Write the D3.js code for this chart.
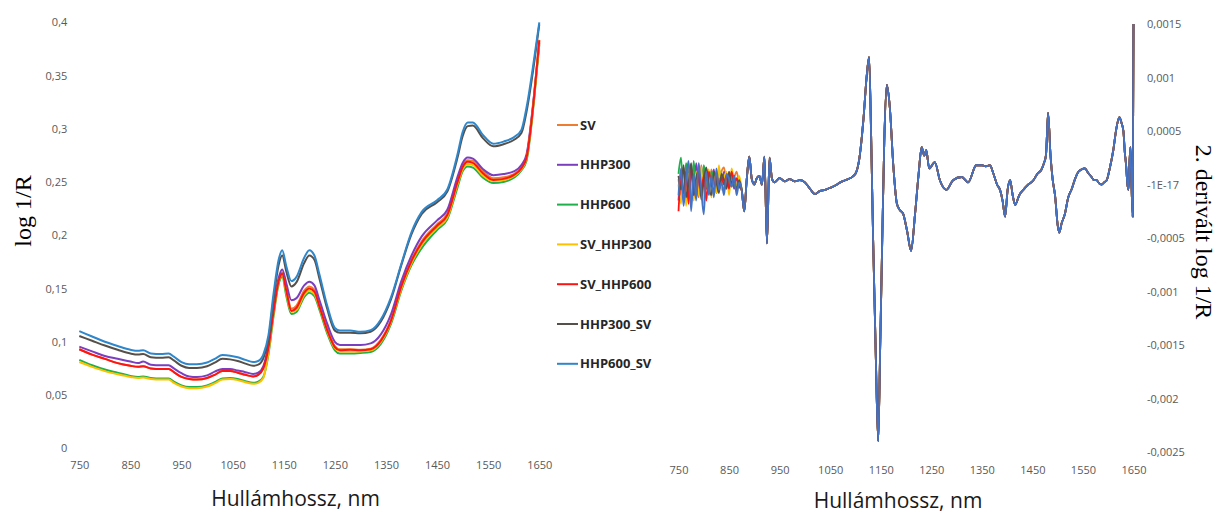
<!DOCTYPE html>
<html><head><meta charset="utf-8">
<script src="https://cdn.jsdelivr.net/npm/d3@7"></script>
<style>
body{margin:0;background:#fff;}
svg{display:block;}
</style></head><body>
<svg id="c" width="1220" height="513"></svg>
<script>
// ---------- legend / series ----------
const seriesNames = ["SV","HHP300","HHP600","SV_HHP300","SV_HHP600","HHP300_SV","HHP600_SV"];
const seriesColors = ["#ED7D31","#7B3FBE","#1FAF4B","#FFC000","#FF1414","#57504A","#2E86CB"];
const rightColors  = ["#ED7D31","#7B3FBE","#1FAF4B","#FFC000","#FF1414","#57504A","#4472C4"];

// ---------- left chart: log 1/R ----------
const leftXTicks = [750,850,950,1050,1150,1250,1350,1450,1550,1650];
const leftXLabels = ["750","850","950","1050","1150","1250","1350","1450","1550","1650"];
const leftYTicks = [0,0.05,0.1,0.15,0.2,0.25,0.3,0.35,0.4];
const leftYLabels = ["0","0,05","0,1","0,15","0,2","0,25","0,3","0,35","0,4"];

const wlLeft = [750,775,800,825,850,865,875,890,910,925,935,950,965,980,1000,1015,1030,1045,1060,1075,1090,1100,1110,1120,1130,1140,1147,1155,1165,1175,1190,1200,1210,1220,1235,1250,1260,1280,1300,1320,1340,1360,1380,1400,1420,1450,1470,1490,1500,1510,1520,1540,1560,1580,1600,1615,1625,1640,1650];

const leftSV = [.093,.088,.084,.080,.0775,.0765,.077,.075,.0745,.0745,.0715,.067,.065,.0645,.066,.069,.0725,.0725,.071,.069,.0675,.069,.075,.095,.129,.158,.165,.150,.131,.134,.148,.152,.149,.135,.113,.096,.093,.093,.0925,.0935,.102,.121,.153,.177,.1945,.2105,.2205,.252,.266,.2705,.270,.260,.2535,.2545,.2575,.264,.274,.332,.3835];
const leftHHP300 = [.0955,.091,.0867,.084,.0815,.080,.0815,.0785,.078,.078,.075,.0705,.0675,.067,.0685,.072,.0745,.0745,.073,.0715,.0698,.071,.077,.097,.132,.160,.168,.155,.139,.141,.153,.1565,.153,.139,.117,.100,.097,.097,.097,.0985,.107,.126,.157,.181,.199,.214,.224,.255,.268,.273,.272,.262,.2565,.2575,.260,.266,.276,.333,.381];
const leftHHP600 = [.083,.078,.074,.071,.068,.067,.0675,.066,.0655,.0655,.0625,.059,.0575,.0575,.059,.062,.0655,.066,.065,.063,.0615,.0625,.067,.088,.124,.154,.161,.143,.126,.128,.142,.146,.143,.130,.108,.092,.089,.089,.0895,.0905,.098,.117,.148,.172,.188,.205,.215,.245,.260,.2645,.2635,.254,.249,.250,.254,.261,.270,.328,.379];
const leftSV_HHP300 = [.081,.0765,.0725,.0695,.067,.066,.0665,.065,.0645,.0645,.0615,.058,.0565,.0565,.058,.061,.0645,.065,.064,.062,.0605,.0615,.066,.090,.126,.156,.163,.146,.128,.130,.144,.148,.145,.132,.110,.094,.091,.091,.091,.092,.100,.119,.150,.174,.191,.207,.217,.248,.262,.267,.266,.256,.251,.252,.2555,.262,.272,.330,.381];
const leftSV_HHP600 = [.093,.088,.084,.080,.0775,.0765,.077,.075,.0745,.0745,.0715,.067,.065,.0645,.066,.069,.0725,.0725,.071,.069,.0675,.069,.075,.094,.128,.157,.164,.148,.129,.132,.146,.150,.147,.133,.111,.095,.092,.0925,.092,.093,.101,.120,.152,.176,.193,.209,.219,.250,.264,.269,.268,.258,.252,.253,.2565,.263,.273,.331,.383];
const leftHHP300_SV = [.1055,.101,.0965,.0925,.089,.088,.0885,.0855,.085,.0855,.0825,.0775,.0755,.0755,.077,.0805,.084,.0835,.082,.0795,.0775,.0785,.0845,.102,.140,.172,.181,.166,.152,.156,.174,.181,.177,.159,.131,.1105,.1085,.1085,.108,.1095,.119,.140,.172,.201,.220,.231,.241,.273,.293,.3025,.303,.291,.2835,.2855,.2895,.296,.316,.362,.398];
const leftHHP600_SV = [.110,.105,.100,.096,.0925,.0915,.092,.089,.0885,.089,.086,.081,.079,.079,.0805,.084,.0875,.087,.0855,.083,.081,.082,.088,.106,.145,.177,.186,.171,.157,.161,.179,.186,.181,.163,.134,.113,.1105,.1105,.1095,.111,.121,.142,.173,.203,.222,.233,.243,.276,.297,.306,.306,.294,.286,.288,.292,.299,.320,.366,.400];

// ---------- right chart: 2nd derivative (values in units of 0.001) ----------
const rightXTicks = [750,850,950,1050,1150,1250,1350,1450,1550,1650];
const rightXLabels = ["750","850","950","1050","1150","1250","1350","1450","1550","1650"];
const rightYTicks = [1.5,1,0.5,0,-0.5,-1,-1.5,-2,-2.5];
const rightYLabels = ["0,0015","0,001","0,0005","-1E-17","-0,0005","-0,001","-0,0015","-0,002","-0,0025"];

const wlRightNoise = [750,755,760,765,770,775,780,785,790,795,800,805,810,815,820,825,830,835,840,845,850,855,860,865,870];
const wlRightTail = [875,880,885,890,895,900,905,910,915,920,925,930,935,940,950,960,970,980,990,1000,1010,1020,1030,1040,1050,1060,1070,1080,1090,1100,1107,1116,1122,1127,1131,1135,1140,1145,1149,1153,1157,1162,1168,1175,1182,1188,1194,1202,1210,1218,1225,1231,1236,1240,1246,1257,1267,1280,1293,1310,1323,1339,1350,1358,1366,1373,1380,1386,1391,1396,1401,1406,1411,1416,1424,1432,1442,1452,1460,1468,1473,1477,1481,1486,1490,1495,1500,1503,1508,1514,1521,1528,1535,1541,1547,1554,1560,1567,1572,1577,1582,1587,1592,1597,1603,1610,1616,1622,1626,1630,1633,1635,1638,1640,1642,1644,1646,1648.5,1650];
const rightTailShared = [-0.05,-0.25,0.05,0.26,0.05,0.00,0.06,0.08,0.00,0.26,-0.55,0.25,0.05,0.02,0.06,0.03,0.05,0.03,0.04,0.02,-0.04,-0.09,-0.06,-0.05,-0.03,-0.01,0.02,0.04,0.06,0.10,0.22,0.62,1.00,1.19,0.46,-0.52,-1.55,-2.40,-1.50,-0.52,0.40,0.93,0.72,0.17,-0.18,-0.24,-0.27,-0.43,-0.62,-0.27,0.10,0.35,0.27,0.32,0.15,0.21,0.04,-0.05,0.04,0.07,0.02,0.18,0.18,0.17,0.18,0.10,0.00,-0.05,-0.15,-0.30,-0.05,0.04,-0.10,-0.19,-0.10,-0.05,0.00,0.04,0.10,0.14,0.20,0.28,0.67,0.26,0.05,-0.11,-0.38,-0.45,-0.36,-0.28,-0.12,-0.04,0.06,0.12,0.14,0.15,0.11,0.07,0.04,0.04,0.01,0.00,0.02,0.04,0.15,0.32,0.52,0.63,0.58,0.50,0.29,0.20,0.00,-0.05,0.20,0.35,0.00,-0.30,1.50];

const rightNoiseSV = [0.05,-0.10,0.12,-0.05,0.20,-0.08,0.15,0.02,-0.12,0.18,-0.02,0.10,-0.06,0.14,0.00,0.08,-0.04,0.12,0.16,0.02,0.10,-0.02,0.06,0.12,0.00];
const rightNoiseHHP300 = [-0.15,0.10,-0.05,0.18,-0.10,0.12,-0.08,0.20,0.00,-0.06,0.15,-0.04,0.10,0.02,0.14,-0.08,0.06,0.00,0.12,-0.02,0.08,0.10,-0.04,0.05,0.02];
const rightNoiseHHP600 = [0.10,0.25,-0.12,0.20,0.05,-0.15,0.22,-0.05,0.15,-0.10,0.18,0.02,-0.08,0.12,0.06,-0.02,0.14,0.04,-0.06,0.10,0.00,0.08,0.02,-0.04,0.06];
const rightNoiseSV_HHP300 = [0.00,-0.18,0.15,-0.20,0.10,0.02,-0.15,0.12,-0.10,0.16,-0.18,0.08,0.14,-0.12,0.10,-0.08,0.18,-0.05,0.06,0.12,-0.10,0.15,0.04,0.00,0.08];
const rightNoiseSV_HHP600 = [-0.25,0.05,-0.08,0.12,-0.18,0.15,-0.02,-0.12,0.10,-0.06,0.08,-0.15,0.12,0.00,-0.05,0.10,-0.02,0.06,0.00,0.08,-0.04,0.12,0.02,0.06,-0.02];
const rightNoiseHHP300_SV = [0.08,-0.05,0.18,-0.12,0.02,0.20,-0.10,0.06,0.14,-0.14,0.04,0.16,-0.02,-0.10,0.12,0.02,-0.08,0.10,0.04,-0.04,0.12,0.00,0.08,-0.06,0.04];
const rightNoiseHHP600_SV = [-0.10,0.15,-0.20,0.05,0.22,-0.25,0.10,-0.15,0.20,-0.05,-0.28,0.12,-0.10,0.08,-0.12,0.15,-0.05,0.02,-0.10,0.10,0.05,-0.02,0.08,-0.10,0.02];

// ---------- build ----------
const leftSeries = [leftSV,leftHHP300,leftHHP600,leftSV_HHP300,leftSV_HHP600,leftHHP300_SV,leftHHP600_SV];
const rightNoise = [rightNoiseSV,rightNoiseHHP300,rightNoiseHHP600,rightNoiseSV_HHP300,rightNoiseSV_HHP600,rightNoiseHHP300_SV,rightNoiseHHP600_SV];
const wlRight = wlRightNoise.concat(wlRightTail);

const svg = d3.select("#c");
const tickFont = "'Open Sans', sans-serif";

// Left scales
const xL = d3.scaleLinear().domain([750,1650]).range([79.3,539.3]);
const yL = d3.scaleLinear().domain([0,0.4]).range([448.3,22.3]);
// Right scales
const xR = d3.scaleLinear().domain([750,1650]).range([678.5,1133.5]);
const yR = d3.scaleLinear().domain([-2.5,1.5]).range([452,24]);

function styleAxis(g){
  g.select(".domain").remove();
  g.selectAll(".tick line").remove();
  g.selectAll("text").attr("fill","#595959").style("font-family",tickFont).style("font-size","11px");
}

// left axes
svg.append("g").attr("transform","translate(79.3,0)")
  .call(d3.axisLeft(yL).tickValues(leftYTicks).tickFormat((d,i)=>leftYLabels[i]).tickSize(0).tickPadding(12))
  .call(styleAxis);
svg.append("g").attr("transform","translate(0,448.3)")
  .call(d3.axisBottom(xL).tickValues(leftXTicks).tickFormat((d,i)=>leftXLabels[i]).tickSize(0).tickPadding(13))
  .call(styleAxis);

// right axes
svg.append("g").attr("transform","translate(1133.5,0)")
  .call(d3.axisRight(yR).tickValues(rightYTicks).tickFormat((d,i)=>rightYLabels[i]).tickSize(0).tickPadding(13.5))
  .call(styleAxis);
svg.append("g").attr("transform","translate(0,452)")
  .call(d3.axisBottom(xR).tickValues(rightXTicks).tickFormat((d,i)=>rightXLabels[i]).tickSize(0).tickPadding(14))
  .call(styleAxis);

// left lines
const lineL = d3.line().x((d,i)=>xL(wlLeft[i])).y(d=>yL(d)).curve(d3.curveMonotoneX);
leftSeries.forEach((s,k)=>{
  svg.append("path").attr("d",lineL(s)).attr("fill","none")
    .attr("stroke",seriesColors[k]).attr("stroke-width",2).attr("stroke-linejoin","round");
});

// right lines
const lineR = d3.line().x((d,i)=>xR(wlRight[i])).y(d=>yR(d)).curve(d3.curveMonotoneX);
rightNoise.forEach((n,k)=>{
  const vals = n.concat(rightTailShared);
  svg.append("path").attr("d",lineR(vals)).attr("fill","none")
    .attr("stroke",rightColors[k]).attr("stroke-width",1.8).attr("stroke-linejoin","round");
});

// legend
const lg = svg.append("g");
seriesNames.forEach((name,k)=>{
  const y = 125 + k*39.8;
  lg.append("line").attr("x1",557).attr("x2",578).attr("y1",y).attr("y2",y)
    .attr("stroke",seriesColors[k]).attr("stroke-width",2);
  lg.append("text").attr("x",580).attr("y",y).attr("dy","0.35em")
    .style("font-family",tickFont).style("font-weight","bold").style("font-size","13px")
    .attr("fill","#262626").text(name);
});

// titles
svg.append("text").attr("x",295.5).attr("y",506).attr("text-anchor","middle")
  .style("font-family",tickFont).style("font-size","21px").attr("fill","#1a1a1a").text("Hullámhossz, nm");
svg.append("text").attr("x",898).attr("y",508).attr("text-anchor","middle")
  .style("font-family",tickFont).style("font-size","21px").attr("fill","#1a1a1a").text("Hullámhossz, nm");
svg.append("text").attr("transform","translate(31,211) rotate(-90)").attr("text-anchor","middle")
  .style("font-family","'Liberation Serif', 'Times New Roman', serif").style("font-size","24px").attr("fill","#000").text("log 1/R");
svg.append("text").attr("transform","translate(1196,232) rotate(90)").attr("text-anchor","middle")
  .style("font-family","'Liberation Serif', 'Times New Roman', serif").style("font-size","24px").attr("fill","#000").text("2. derivált log 1/R");
</script>
</body></html>
